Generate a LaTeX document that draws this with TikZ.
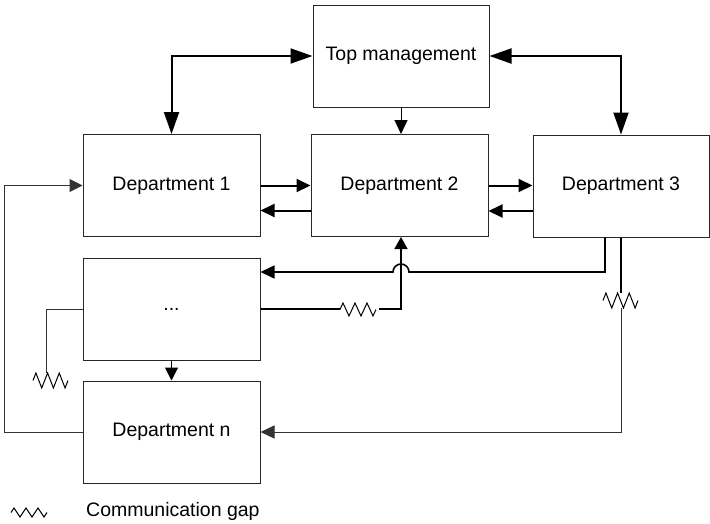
\documentclass[tikz,border=0pt]{standalone}
\usepackage{fontspec}
\setmainfont{Liberation Sans}
\usetikzlibrary{arrows.meta,calc}

% zigzag symbol for a communication gap: #1,#2 left end (mid height), #3 width, #4 height
\newcommand\gapmark[4]{%
  \draw[zig] (#1,#2) -- ++({#3/12},{#4/2}) -- ++({#3/6},{-#4}) -- ++({#3/6},{#4})
    -- ++({#3/6},{-#4}) -- ++({#3/6},{#4}) -- ++({#3/6},{-#4}) -- ++({#3/12},{#4/2});}

\tikzset{
  dept/.style={draw=black!85, line width=1pt, minimum width=177pt, minimum height=102pt,
    inner sep=0pt, font=\fontsize{19.5}{23}\selectfont},
  bigtip/.tip={Triangle[length=22pt,width=15pt]},
  smalltip/.tip={Triangle[length=14pt,width=13pt]},
  twoway/.style={line width=2pt, {bigtip}-{bigtip}},
  flow/.style={line width=2pt, -{smalltip}},
  flowline/.style={line width=2pt},
  thinflow/.style={line width=1pt, draw=black!80, -{smalltip}},
  thinline/.style={line width=1pt, draw=black!80},
  zig/.style={line width=1pt, line join=miter},
}

\begin{document}
\begin{tikzpicture}[x=1pt,y=1pt]
\useasboundingbox (0,0) rectangle (710,-523);

% departments
\node[dept, minimum width=176pt] (top)  at (401,-56)     {Top management};
\node[dept] (d1)   at (171.5,-185.5) {Department 1};
\node[dept] (d2)   at (399.5,-185.5) {Department 2};
\node[dept, minimum width=176pt] (d3)   at (621,-186)    {Department 3};
\node[dept] (dots) at (171.5,-309)   {...};
\node[dept] (dn)   at (171.5,-432)   {Department n};

% top management links
\draw[twoway] (top.west) -| (d1.north);
\draw[twoway] (top.east) -| (d3.north);
\draw[thinflow, draw=black] (top.south) -- (top.south |- d2.north);

% links between neighbouring departments
\draw[flow] (d1.east) -- (d1.east -| d2.west);
\draw[flow] ([yshift=-25pt]d2.west) -- ([yshift=-25pt]d2.west -| d1.east);
\draw[flow] (d2.east) -- (d2.east -| d3.west);
\draw[flow] ([yshift=-25pt]d3.west) -- ([yshift=-25pt]d3.west -| d2.east);

% department 3 to the middle department, hopping over the crossing line
\coordinate (hop) at (409,-272);
\draw[flow, line width=1.6pt] ([xshift=-16pt]d3.south) |- (hop)
  arc[start angle=0, end angle=180, radius=8pt] -- (dots.east |- hop);

% middle department to department 2, with a gap
\coordinate (gapA) at (340,-309);
\coordinate (gapB) at (379,-309);
\draw[flowline, line width=1.6pt] (dots.east) -- (gapA);
\gapmark{340}{-309.5}{36}{13}
\draw[line width=1.6pt, -{Triangle[length=12pt,width=13pt]}] (gapB) -| ([xshift=1.5pt]d2.south);

% department 3 to department n, with a gap
\coordinate (gapC) at (621,-293);
\coordinate (gapD) at (621,-308);
\draw[flowline] (d3.south) -- (gapC);
\gapmark{603}{-300.5}{35}{15}
\draw[thinflow] (gapD) |- (dn.east);

% middle department, loose end with a gap
\coordinate (gapE) at (46,-373);
\draw[thinline] (dots.west) -| (gapE);
\gapmark{33}{-380.5}{35}{15}

% middle department to department n
\draw[thinflow, draw=black, -{Triangle[length=13pt,width=13pt]}] (dots.south) -- (dn.north);

% department n back to department 1
\draw[thinflow, -{Triangle[length=13pt,width=13pt]}] (dn.west) -- ++(-78,0) |- (d1.west);

% legend
\gapmark{11}{-512.5}{36}{9}
\node[anchor=west, inner sep=0pt, font=\fontsize{19.5}{23}\selectfont] (legend) at (86,-511) {Communication gap};
\end{tikzpicture}
\end{document}
